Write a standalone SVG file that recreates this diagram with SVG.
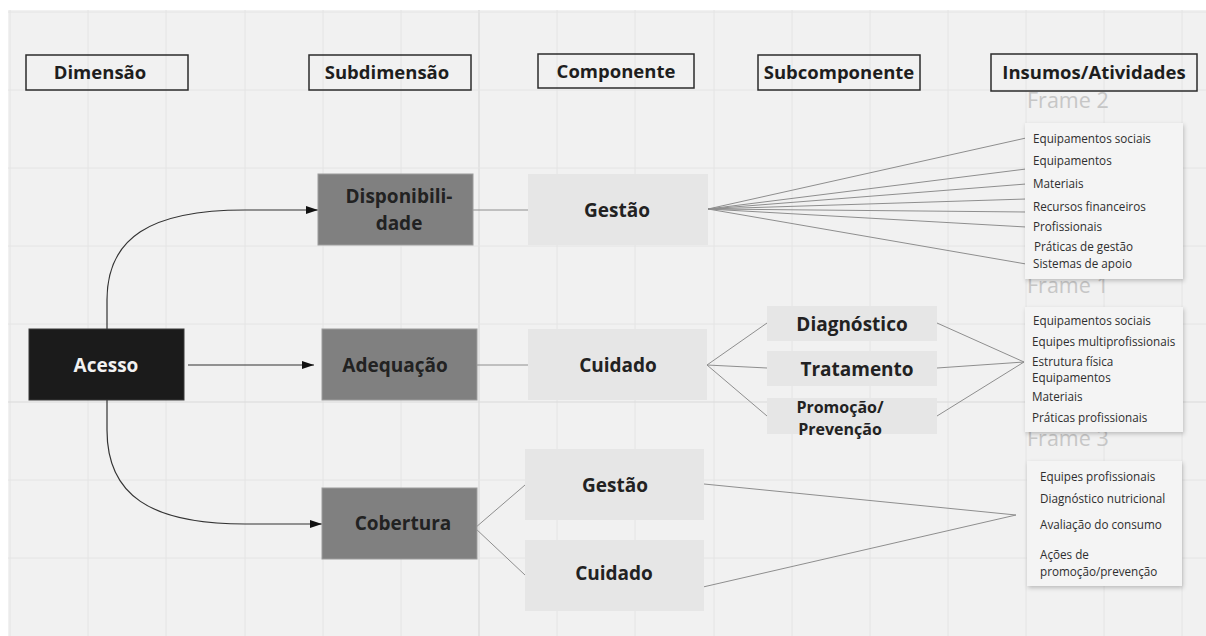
<svg xmlns="http://www.w3.org/2000/svg" width="1206" height="636" viewBox="0 0 1206 636">
  <style>
    text { font-family: "Open Sans", "Noto Sans", "DejaVu Sans", sans-serif; }
    .grid { stroke: #e4e4e4; stroke-width: 1; }
    .grid-major { stroke: #dadada; stroke-width: 1.2; }
    .hdr rect { fill: none; stroke: #2b2b2b; stroke-width: 1.5; }
    .hdr text { font-size: 18.5px; font-weight: 700; fill: #1e1e1e; text-anchor: middle; }
    .dark rect { fill: #1b1b1b; stroke: #3a3a3a; stroke-width: 1; }
    .dark text { font-size: 19px; font-weight: 700; fill: #f2f2f2; text-anchor: middle; }
    .mid rect { fill: #808080; stroke: #9c9c9c; stroke-width: 1; }
    .mid text { font-size: 19px; font-weight: 700; fill: #222; text-anchor: middle; }
    .light rect { fill: #e6e6e6; }
    .light text { font-size: 19px; font-weight: 700; fill: #222; text-anchor: middle; }
    .frame-label { font-size: 21.5px; fill: #c6c6c6; }
    .frame rect { fill: #f4f4f4; filter: url(#shadow); }
    .frame text { font-size: 11.7px; fill: #2e2e2e; }
    .link { stroke: #8e8e8e; stroke-width: 1; fill: none; }
    .arrow { stroke: #333; stroke-width: 1.2; fill: none; marker-end: url(#head); }
  </style>
  <defs>
    <marker id="head" viewBox="0 0 12 8" refX="12" refY="4" markerWidth="12" markerHeight="8" markerUnits="userSpaceOnUse" orient="auto">
      <path d="M0,0 L12,4 L0,8 Z" fill="#111"/>
    </marker>
    <filter id="shadow" x="-10%" y="-10%" width="125%" height="125%">
      <feDropShadow dx="1" dy="2" stdDeviation="2" flood-color="#000" flood-opacity="0.22"/>
    </filter>
  </defs>

  <!-- board background -->
  <rect x="0" y="0" width="1206" height="636" fill="#ffffff"/>
  <rect x="8" y="10" width="1198" height="626" fill="#f1f1f1"/>

  <!-- grid -->
  <g id="grid">
    <line class="grid" x1="10" y1="10" x2="10" y2="636"/>
    <line class="grid" x1="88" y1="10" x2="88" y2="636"/>
    <line class="grid" x1="166" y1="10" x2="166" y2="636"/>
    <line class="grid" x1="245" y1="10" x2="245" y2="636"/>
    <line class="grid" x1="323" y1="10" x2="323" y2="636"/>
    <line class="grid" x1="401" y1="10" x2="401" y2="636"/>
    <line class="grid-major" x1="479" y1="10" x2="479" y2="636"/>
    <line class="grid" x1="557" y1="10" x2="557" y2="636"/>
    <line class="grid" x1="635" y1="10" x2="635" y2="636"/>
    <line class="grid" x1="714" y1="10" x2="714" y2="636"/>
    <line class="grid" x1="792" y1="10" x2="792" y2="636"/>
    <line class="grid" x1="870" y1="10" x2="870" y2="636"/>
    <line class="grid" x1="948" y1="10" x2="948" y2="636"/>
    <line class="grid" x1="1026" y1="10" x2="1026" y2="636"/>
    <line class="grid" x1="1104" y1="10" x2="1104" y2="636"/>
    <line class="grid" x1="1182" y1="10" x2="1182" y2="636"/>
    <line class="grid" x1="8" y1="12" x2="1206" y2="12"/>
    <line class="grid" x1="8" y1="90" x2="1206" y2="90"/>
    <line class="grid" x1="8" y1="168" x2="1206" y2="168"/>
    <line class="grid" x1="8" y1="246" x2="1206" y2="246"/>
    <line class="grid" x1="8" y1="324" x2="1206" y2="324"/>
    <line class="grid-major" x1="8" y1="402" x2="1206" y2="402"/>
    <line class="grid" x1="8" y1="480" x2="1206" y2="480"/>
    <line class="grid" x1="8" y1="558" x2="1206" y2="558"/>
  </g>

  <!-- column headers -->
  <g id="hdr-dimensao" class="hdr"><rect x="26" y="55" width="162" height="35"/><text x="100" y="79">Dimensão</text></g>
  <g id="hdr-subdimensao" class="hdr"><rect x="309" y="55" width="162" height="35"/><text x="387" y="79">Subdimensão</text></g>
  <g id="hdr-componente" class="hdr"><rect x="538" y="54" width="156" height="34"/><text x="616" y="78">Componente</text></g>
  <g id="hdr-subcomponente" class="hdr"><rect x="758" y="55" width="162" height="35"/><text x="839" y="79">Subcomponente</text></g>
  <g id="hdr-insumos" class="hdr"><rect x="991" y="54" width="206" height="37"/><text x="1094" y="79">Insumos/Atividades</text></g>

  <!-- frame labels (drawn beneath the frame cards) -->
  <text class="frame-label" x="1027" y="108">Frame 2</text>
  <text class="frame-label" x="1027" y="293">Frame 1</text>
  <text class="frame-label" x="1027" y="446">Frame 3</text>

  <!-- connectors -->
  <g id="connectors">
    <path class="arrow" d="M107,329 L107,300 C107,238 150,210 245,210 L318,210"/>
    <path class="arrow" d="M188,365 L314,365"/>
    <path class="arrow" d="M107,400 L107,430 C107,495 150,524 245,524 L322,524"/>

    <line class="link" x1="473" y1="210" x2="536" y2="210"/>
    <line class="link" x1="477" y1="365" x2="528" y2="365"/>

    <line class="link" x1="708" y1="209" x2="1026" y2="138"/>
    <line class="link" x1="708" y1="209" x2="1026" y2="169"/>
    <line class="link" x1="708" y1="209" x2="1026" y2="184"/>
    <line class="link" x1="708" y1="209" x2="1026" y2="199"/>
    <line class="link" x1="708" y1="209" x2="1026" y2="212"/>
    <line class="link" x1="708" y1="209" x2="1026" y2="227"/>
    <line class="link" x1="708" y1="209" x2="1026" y2="264"/>

    <line class="link" x1="707" y1="365" x2="767" y2="323"/>
    <line class="link" x1="707" y1="365" x2="767" y2="368"/>
    <line class="link" x1="707" y1="365" x2="767" y2="416"/>

    <line class="link" x1="937" y1="323" x2="1024" y2="362"/>
    <line class="link" x1="937" y1="368" x2="1024" y2="362"/>
    <line class="link" x1="937" y1="416" x2="1024" y2="362"/>

    <line class="link" x1="475" y1="528" x2="525" y2="485"/>
    <line class="link" x1="475" y1="528" x2="525" y2="575"/>

    <line class="link" x1="704" y1="484" x2="1016" y2="515"/>
    <line class="link" x1="703" y1="587" x2="1016" y2="515"/>
  </g>

  <!-- dimension -->
  <g id="acesso" class="dark"><rect x="29" y="329" width="155" height="71"/><text x="106" y="372">Acesso</text></g>

  <!-- subdimensions -->
  <g id="disponibilidade" class="mid"><rect x="318" y="174" width="155" height="71"/>
    <text x="399" y="203">Disponibili-</text><text x="399" y="230">dade</text></g>
  <g id="adequacao" class="mid"><rect x="322" y="329" width="155" height="71"/><text x="395" y="372">Adequação</text></g>
  <g id="cobertura" class="mid"><rect x="322" y="488" width="155" height="71"/><text x="403" y="530">Cobertura</text></g>

  <!-- components -->
  <g id="gestao-1" class="light"><rect x="528" y="174" width="180" height="71"/><text x="617" y="217">Gestão</text></g>
  <g id="cuidado-1" class="light"><rect x="528" y="329" width="179" height="71"/><text x="618" y="372">Cuidado</text></g>
  <g id="gestao-2" class="light"><rect x="525" y="449" width="179" height="71"/><text x="615" y="492">Gestão</text></g>
  <g id="cuidado-2" class="light"><rect x="525" y="540" width="179" height="71"/><text x="614" y="580">Cuidado</text></g>

  <!-- subcomponents -->
  <g id="diagnostico" class="light"><rect x="767" y="306" width="170" height="35"/><text x="852" y="331">Diagnóstico</text></g>
  <g id="tratamento" class="light"><rect x="767" y="351" width="170" height="35"/><text x="857" y="376">Tratamento</text></g>
  <g id="promocao" class="light"><rect x="767" y="398" width="170" height="36"/>
    <text x="840" y="413" style="font-size:16px">Promoção/</text><text x="840" y="435" style="font-size:16px">Prevenção</text></g>

  <!-- input / activity cards -->
  <g id="frame-2" class="frame">
    <rect x="1025" y="123" width="158" height="156"/>
    <text x="1033" y="143">Equipamentos sociais</text>
    <text x="1033" y="165">Equipamentos</text>
    <text x="1033" y="188">Materiais</text>
    <text x="1033" y="211">Recursos financeiros</text>
    <text x="1033" y="231">Profissionais</text>
    <text x="1034" y="251">Práticas de gestão</text>
    <text x="1033" y="268">Sistemas de apoio</text>
  </g>
  <g id="frame-1" class="frame">
    <rect x="1025" y="307" width="158" height="125"/>
    <text x="1033" y="325">Equipamentos sociais</text>
    <text x="1032" y="346">Equipes multiprofissionais</text>
    <text x="1032" y="366">Estrutura física</text>
    <text x="1032" y="382">Equipamentos</text>
    <text x="1032" y="401">Materiais</text>
    <text x="1032" y="422">Práticas profissionais</text>
  </g>
  <g id="frame-3" class="frame">
    <rect x="1027" y="461" width="155" height="125"/>
    <text x="1040" y="481">Equipes profissionais</text>
    <text x="1040" y="503">Diagnóstico nutricional</text>
    <text x="1040" y="529">Avaliação do consumo</text>
    <text x="1040" y="559">Ações de</text>
    <text x="1040" y="576">promoção/prevenção</text>
  </g>
</svg>
